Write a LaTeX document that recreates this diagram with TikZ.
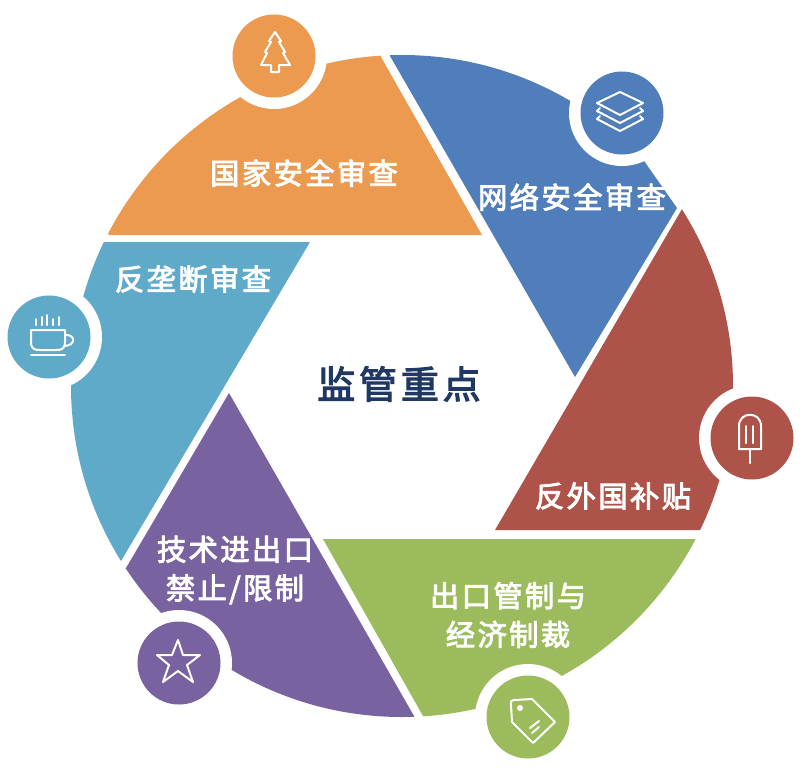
\documentclass[tikz,border=0pt]{standalone}
\usepackage{fontspec}
\newfontfamily\cjklabel[LetterSpace=8,FakeBold=3]{Noto Sans CJK SC}
\newfontfamily\cjkcentre[LetterSpace=10,FakeBold=3]{Noto Sans CJK SC}
\definecolor{cOrange}{HTML}{EB9A4F}
\definecolor{cBlue}{HTML}{4F7EBB}
\definecolor{cRed}{HTML}{AE5349}
\definecolor{cGreen}{HTML}{9BBB5C}
\definecolor{cPurple}{HTML}{7863A0}
\definecolor{cTeal}{HTML}{5FA9C9}
\definecolor{cNavy}{HTML}{1F3864}
\tikzset{
  seglabel/.style={text=white,font=\cjklabel\fontsize{22}{29}\selectfont,align=center,inner sep=0pt},
  centrelabel/.style={text=cNavy,font=\cjkcentre\fontsize{28.5}{34}\selectfont,inner sep=0pt},
  ring/.style={fill=white,draw=none},
  iconline/.style={draw=white,line width=1.5pt,line join=round,line cap=round,fill=none},
}
\begin{document}
\begin{tikzpicture}[x=0.75pt,y=-0.75pt]
\useasboundingbox[fill=white] (0,0) rectangle (806,776);
% segments: polygon clipped by the outer circle
\begin{scope}
  \clip (402,386) circle[radius=331];
  \fill[cOrange] (109,235) -- (482,235) -- (381,57) -- (381,0) -- (0,0) -- (0,100) -- cycle;
  \fill[cBlue] (390,56) -- (575,377) -- (677,208) -- (642,158) -- (700,0) -- (390,0) -- cycle;
  \fill[cRed] (682,209) -- (495,530) -- (698,530) -- (806,530) -- (806,209) -- cycle;
  \fill[cGreen] (323,539) -- (806,539) -- (806,776) -- (423,776) -- (423,716) -- cycle;
  \fill[cPurple] (229,393) -- (414,716) -- (414,776) -- (0,776) -- (0,568) -- (126,568) -- cycle;
  \fill[cTeal] (310,242) -- (121,561) -- (0,561) -- (0,242) -- cycle;
\end{scope}
% icon rings and discs
\foreach \cx/\cy/\col in {274/56/cOrange,622/113/cBlue,752/438/cRed,528/717/cGreen,179/663/cPurple,49/337/cTeal}{
  \fill[ring] (\cx,\cy) circle[radius=53];
  \fill[\col] (\cx,\cy) circle[radius=41.5];
}
% tree
\draw[iconline] (275,32) -- (281,41) -- (279,42) -- (285,52) -- (283,53) -- (290,65) -- (279,65) -- (279,72) -- (271,72) -- (271,65) -- (261,65) -- (267,53) -- (265,52) -- (271,42) -- (269,41) -- cycle;
% layers
\draw[iconline] (597,103) -- (620,92) -- (643,103) -- (620,115) -- cycle;
\draw[iconline] (600,108) -- (597,111) -- (620,123) -- (643,111) -- (640,108);
\draw[iconline] (600,116) -- (597,119) -- (620,131) -- (643,119) -- (640,116);
% cup
\draw[iconline] (31,330) -- (65,330) -- (65,342) .. controls (65,350) and (60,350) .. (56,350) -- (40,350) .. controls (36,350) and (31,350) .. (31,342) -- cycle;
\draw[iconline] (65,335) .. controls (76,334) and (76,346) .. (64,346);
\draw[iconline] (31,355) -- (65,355);
\foreach \sx/\st in {36/319,42/317,47/315,53/319,59/317}{
  \draw[iconline] (\sx,\st) -- (\sx,325);
}
% popsicle
\draw[iconline] (739,449) -- (739,426) .. controls (739,411) and (761,411) .. (761,426) -- (761,449) -- cycle;
\draw[iconline] (750,449) -- (750,463);
\draw[iconline] (746,426) -- (746,443);
\draw[iconline] (753,426) -- (753,443);
% tag
\draw[iconline] (511,705) .. controls (510,701) and (512,700) .. (515,700) -- (532,699) -- (555,722) -- (533,743) -- (512,722) -- cycle;
\fill[white] (520,708) circle[radius=3];
\draw[iconline] (530,728) -- (539,721);
\draw[iconline] (532,733) -- (539,727);
% star
\draw[iconline] (178,640) -- (183,655) -- (200,655) -- (187,665) -- (193,682) -- (178,671) -- (163,682) -- (169,665) -- (157,655) -- (172,655) -- cycle;
% labels
\node[seglabel] (national) at (304,173) {国家安全审查};
\node[seglabel] (network) at (572,197) {网络安全审查};
\node[seglabel] (antitrust) at (193,279) {反垄断审查};
\node[seglabel] (subsidy) at (613,496) {反外国补贴};
\node[seglabel] (export) at (508,615) {出口管制与\\经济制裁};
\node[seglabel] (tech) at (235,570) {技术进出口\\禁止/限制};
\node[centrelabel] (focus) at (399,384) {监管重点};
\end{tikzpicture}
\end{document}
